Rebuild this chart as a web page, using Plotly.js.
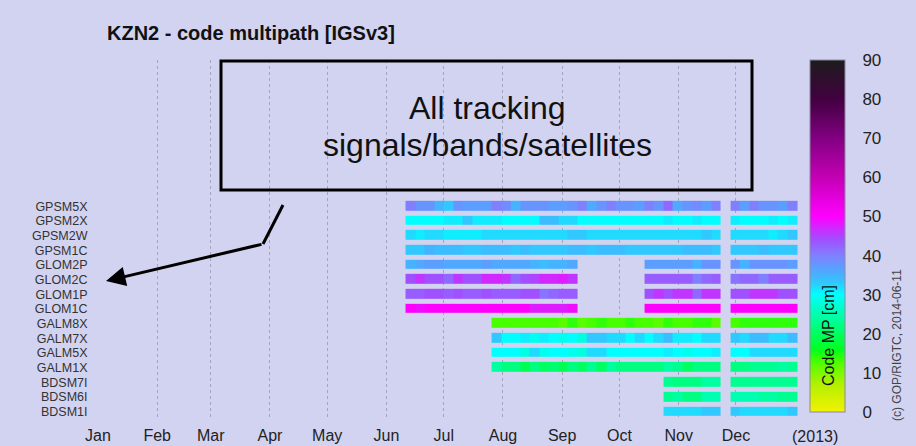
<!DOCTYPE html>
<html>
<head>
<meta charset="utf-8">
<script src="https://cdn.plot.ly/plotly-3.0.1.min.js"></script>
<style>
  html, body { margin: 0; padding: 0; background: #d2d3f0; }
  #chart { width: 916px; height: 446px; }
</style>
</head>
<body>
<div id="chart"></div>
<script>
// Tracked signals, listed top to bottom as they appear on the y axis
const signals = ['GPSM5X', 'GPSM2X', 'GPSM2W', 'GPSM1C', 'GLOM2P', 'GLOM2C', 'GLOM1P', 'GLOM1C',
                 'GALM8X', 'GALM7X', 'GALM5X', 'GALM1X', 'BDSM7I', 'BDSM6I', 'BDSM1I'];

// 5-day bins starting 2013-06-11 (41 bins, null = no data)
const firstBin = '2013-06-11';
const binDays = 5;
const N = null;

// Code multipath per bin [cm]
const mpGPSM5X = [40,38,38,35,33,38,37,37,37,40,39, 35,38,38,38,37,37,38,40,36,38,40, 38,38,37,40,38,42,36,38,39,37,40, N, 40,37,40,38,38,37,40];
const mpGPSM2X = [30,30,30,30,31,31,33,31,31,31,30, 30,30,30,34,34,32,32,30,30,30,30, 30,30,30,30,30,31,30,30,31,30,30, N, 31,30,30,30,31,30,31];
const mpGPSM2W = [32,31,32,32,31,31,31,31,32,32,32, 32,32,32,32,32,32,33,33,32,32,32, 32,32,32,32,32,32,32,32,32,33,32, N, 32,32,32,32,31,32,33];
const mpGPSM1C = [33,33,35,34,34,34,33,33,34,34,34, 33,34,33,33,33,33,34,34,33,34,34, 34,33,33,33,33,33,33,34,34,34,33, N, 33,33,33,34,33,33,33];
const mpGLOM2P = [35,36,37,37,36,36,36,36,37,36,36, 36,36,35,34,35,35,36, N,N,N,N,N,N,N, 37,37,37,37,37,35,38,38, N, 38,35,38,38,38,38,37];
const mpGLOM2C = [44,46,44,44,42,46,44,44,47,47,46, 42,44,45,47,47,48,46, N,N,N,N,N,N,N, 43,43,43,43,43,40,42,43, N, 41,42,42,40,43,43,43];
const mpGLOM1P = [43,43,44,44,43,44,43,43,44,43,43, 43,44,44,41,42,43,43, N,N,N,N,N,N,N, 44,46,44,46,46,42,46,46, N, 44,44,46,46,46,44,44];
const mpGLOM1C = [50,49,50,50,50,50,50,50,50,50,50, 50,50,48,48,48,48,49, N,N,N,N,N,N,N, 50,50,50,50,50,50,50,50, N, 50,50,50,50,50,50,50];
const mpGALM8X = [N,N,N,N,N,N,N,N,N, 13,13, 13,13,13,13,13,12,14,12,13,14,13, 13,14,13,13,12,14,13,13,14,14,12, N, 13,14,14,14,14,14,14];
const mpGALM7X = [N,N,N,N,N,N,N,N,N, 33,30, 30,31,29,31,30,29,30,28,33,33,32, 32,30,32,30,32,34,31,31,30,32,32, N, 33,32,34,34,32,32,34];
const mpGALM5X = [N,N,N,N,N,N,N,N,N, 30,30, 30,28,32,29,30,30,29,28,32,32,30, 30,30,30,30,30,31,30,29,30,30,31, N, 30,30,32,32,32,32,32];
const mpGALM1X = [N,N,N,N,N,N,N,N,N, 24,22, 22,19,22,20,21,19,22,20,23,20,24, 22,22,22,22,22,24,23,20,22,22,22, N, 22,22,23,23,23,24,23];
const mpBDSM7I = [N,N,N,N,N,N,N,N,N,N,N,N,N,N,N,N,N,N,N,N,N,N,N,N,N,N,N, 23,22,22,22,24,24, N, 23,23,23,23,23,23,23];
const mpBDSM6I = [N,N,N,N,N,N,N,N,N,N,N,N,N,N,N,N,N,N,N,N,N,N,N,N,N,N,N, 23,24,22,22,25,25, N, 25,25,25,24,24,23,23];
const mpBDSM1I = [N,N,N,N,N,N,N,N,N,N,N,N,N,N,N,N,N,N,N,N,N,N,N,N,N,N,N, 32,32,32,32,33,33, N, 33,32,32,32,32,32,33];

const mpRows = [mpGPSM5X, mpGPSM2X, mpGPSM2W, mpGPSM1C, mpGLOM2P, mpGLOM2C, mpGLOM1P, mpGLOM1C,
                mpGALM8X, mpGALM7X, mpGALM5X, mpGALM1X, mpBDSM7I, mpBDSM6I, mpBDSM1I];

// Month axis
const monthTicks = ['2013-01-01','2013-02-01','2013-03-01','2013-04-01','2013-05-01','2013-06-01',
                    '2013-07-01','2013-08-01','2013-09-01','2013-10-01','2013-11-01','2013-12-01'];
const monthLabels = ['Jan','Feb','Mar','Apr','May','Jun','Jul','Aug','Sep','Oct','Nov','Dec'];

// Colour scale for code multipath, 0..90 cm
const scaleMax = 90;
const scaleStops = [0, 7, 13, 16, 22, 30, 33, 36, 40, 44, 50, 60, 70, 80, 90];
const scaleColors = ['#f2f200', '#b4f000', '#48ff00', '#00ff20', '#00ff80', '#00ffff', '#30c8ff',
                     '#50a8ff', '#8080ff', '#a050ff', '#ff00ff', '#c400b4', '#820082', '#420040', '#1c1c1c'];
const colorscale = scaleStops.map((v, i) => [v / scaleMax, scaleColors[i]]);

// Bin centres on the date axis
const dayMs = 86400000;
const t0 = Date.parse(firstBin + 'T00:00:00Z');
const binCentres = mpRows[0].map((_, i) =>
  new Date(t0 + (i * binDays + binDays / 2) * dayMs).toISOString().replace('T', ' ').slice(0, 19));

// Bottom-up order for the category axis
const yCats = signals.slice().reverse();
const zRows = mpRows.slice().reverse();

// Plot-area pixel frame -> paper coordinates
const L = 98, R = 799, T = 60, B = 419;
const px = x => (x - L) / (R - L);
const py = y => (B - y) / (B - T);

const bg = '#d2d3f0';
const font = 'Liberation Sans, Arial, sans-serif';

// Free-standing text placed by its centre
const label = (x, y, text, size, color, angle) => ({
  xref: 'paper', yref: 'paper', x: px(x), y: py(y), text: text,
  xanchor: 'center', yanchor: 'middle', showarrow: false, textangle: angle || 0,
  font: { family: font, size: size, color: color }
});

const trace = {
  type: 'heatmap',
  x: binCentres,
  y: yCats,
  z: zRows,
  zmin: 0,
  zmax: scaleMax,
  colorscale: colorscale,
  xgap: 0,
  ygap: 5,
  hoverongaps: false,
  colorbar: {
    x: px(810), xanchor: 'left',
    y: py(412), yanchor: 'bottom',
    lenmode: 'pixels', len: 352,
    thickness: 35,
    outlinewidth: 1, outlinecolor: '#8a8aa0',
    tickmode: 'array',
    tickvals: [0, 10, 20, 30, 40, 50, 60, 70, 80, 90],
    ticks: 'outside', ticklen: 14, tickcolor: 'rgba(0,0,0,0)',
    tickfont: { family: font, size: 17, color: '#222' },
    xpad: 0, ypad: 0
  }
};

const layout = {
  width: 916,
  height: 446,
  paper_bgcolor: bg,
  plot_bgcolor: bg,
  margin: { l: L, r: 916 - R, t: T, b: 446 - B },
  showlegend: false,
  title: {
    text: '<b>KZN2 - code multipath [IGSv3]</b>',
    xref: 'container', x: 107 / 916, xanchor: 'left',
    yref: 'container', y: 1 - 33 / 446, yanchor: 'middle',
    font: { family: font, size: 20, color: '#111' }
  },
  xaxis: {
    type: 'date',
    range: ['2013-01-01', '2014-01-03'],
    tickmode: 'array',
    tickvals: monthTicks,
    ticktext: monthLabels,
    ticks: 'outside', ticklen: 2, tickcolor: 'rgba(0,0,0,0)',
    tickfont: { family: font, size: 16, color: '#222' },
    showgrid: true, gridcolor: '#a4a4bc', griddash: 'dot', gridwidth: 1,
    zeroline: false, showline: false, fixedrange: true
  },
  yaxis: {
    type: 'category',
    range: [-0.5, -0.5 + (B - T) / 14.68],
    tickmode: 'array',
    tickvals: yCats,
    ticktext: yCats,
    ticks: 'outside', ticklen: 7, tickcolor: 'rgba(0,0,0,0)',
    tickfont: { family: font, size: 12.5, color: '#333' },
    showgrid: false, zeroline: false, showline: false, fixedrange: true
  },
  shapes: [
    { type: 'rect', xref: 'paper', yref: 'paper',
      x0: px(221), x1: px(752), y0: py(190), y1: py(61),
      line: { color: '#000', width: 3 }, fillcolor: 'rgba(0,0,0,0)' },
    { type: 'line', xref: 'paper', yref: 'paper',
      x0: px(283), y0: py(205), x1: px(263), y1: py(244),
      line: { color: '#000', width: 3 } }
  ],
  annotations: [
    label(487, 108, 'All tracking', 32, '#111'),
    label(487, 145, 'signals/bands/satellites', 32, '#111'),
    { xref: 'paper', yref: 'paper', x: px(106), y: py(281), text: '',
      showarrow: true, ax: 157, ay: -37, arrowhead: 2, arrowsize: 1.3,
      arrowwidth: 3, arrowcolor: '#000', standoff: 0 },
    label(828, 336, 'Code MP [cm]', 16, '#111', -90),
    label(897, 345, '(c) GOP/RIGTC, 2014-06-11', 12, '#444', -90),
    label(815, 436, '(2013)', 16, '#222')
  ]
};

Plotly.newPlot('chart', [trace], layout, { displayModeBar: false, staticPlot: true });
</script>
</body>
</html>
